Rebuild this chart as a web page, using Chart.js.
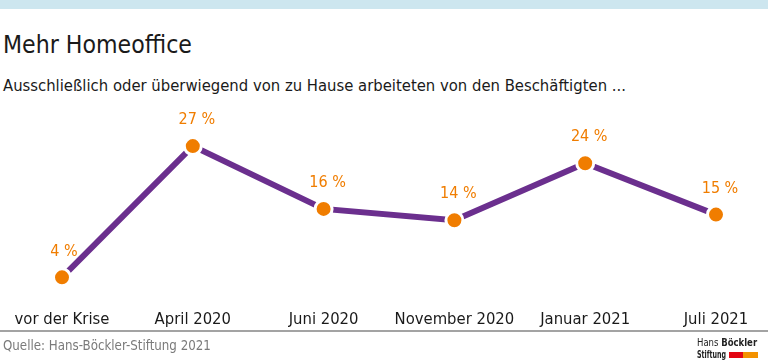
<!DOCTYPE html>
<html><head><meta charset="utf-8">
<script src="https://cdn.jsdelivr.net/npm/chart.js@4/dist/chart.umd.min.js"></script>
<style>
html,body{margin:0;padding:0;background:#fff;}
body{width:768px;height:364px;position:relative;overflow:hidden;font-family:"DejaVu Sans Condensed",sans-serif;line-height:normal;}
#band{position:absolute;left:0;top:0;width:768px;height:9px;background:#cde6ef;}
#title{position:absolute;left:3px;top:30px;font-size:24.6px;color:#1a1a1a;white-space:nowrap;}
#sub{position:absolute;left:3px;top:76px;font-size:16.5px;color:#1a1a1a;white-space:nowrap;}
#rule{position:absolute;left:0;top:330px;width:768px;height:2px;background:#a3a3a3;}
#wrap{position:absolute;left:0;top:100px;width:768px;height:241px;}
#src{position:absolute;left:3px;top:338px;font-size:13.2px;color:#7a7a7a;white-space:nowrap;}
#logo1{position:absolute;left:697px;top:336px;font-size:11px;color:#222;white-space:nowrap;transform:scaleX(0.86);transform-origin:0 0;}
#logo2{position:absolute;left:697px;top:348px;font-size:11px;font-weight:bold;color:#222;white-space:nowrap;transform:scaleX(0.64);transform-origin:0 0;}
#red{position:absolute;left:729px;top:352px;width:14px;height:6px;background:#e30613;}
#org{position:absolute;left:743px;top:352px;width:15px;height:6px;background:#f39200;}
</style></head>
<body>
<div id="band"></div>
<div id="title">Mehr Homeoffice</div>
<div id="sub">Ausschließlich oder überwiegend von zu Hause arbeiteten von den Beschäftigten ...</div>
<div id="rule"></div>
<div id="wrap"><canvas id="c" width="768" height="241"></canvas></div>
<div id="src">Quelle: Hans-Böckler-Stiftung 2021</div>
<div id="logo1">Hans <b>Böckler</b></div>
<div id="logo2">Stiftung</div>
<div id="red"></div><div id="org"></div>
<script>
const categories = ["vor der Krise","April 2020","Juni 2020","November 2020","Januar 2021","Juli 2021"];
const values = [4,27,16,14,24,15];
const valueLabels = ["4 %","27 %","16 %","14 %","24 %","15 %"];

const labelPlugin = {
  id:'valueLabels',
  afterDatasetsDraw(chart){
    const ctx = chart.ctx;
    const meta = chart.getDatasetMeta(0);
    ctx.save();
    ctx.fillStyle = '#f07d00';
    ctx.font = '16px "DejaVu Sans Condensed", sans-serif';
    ctx.textAlign = 'center';
    ctx.textBaseline = 'middle';
    meta.data.forEach((pt,i)=>{
      const dx = valueLabels[i].length > 3 ? 4 : 2;
      ctx.fillText(valueLabels[i], pt.x + dx, pt.y - 26);
    });
    ctx.restore();
  }
};

new Chart(document.getElementById('c'), {
  type:'line',
  data:{labels:categories, datasets:[{
    data:values,
    borderColor:'#6b2f8e',
    borderWidth:6,
    pointBackgroundColor:'#f07d00',
    pointBorderColor:'#ffffff',
    pointBorderWidth:3,
    pointRadius:8.5,
    tension:0,
    clip:false
  }]},
  options:{
    responsive:false,
    animation:false,
    layout:{padding:{left:62,right:52,top:29,bottom:1}},
    plugins:{legend:{display:false},tooltip:{enabled:false}},
    scales:{
      x:{offset:false,grid:{display:false,drawTicks:false},border:{display:false},
        ticks:{color:'#1a1a1a',padding:10,maxRotation:0,autoSkip:false,
          font:{family:'"DejaVu Sans Condensed",sans-serif',size:16.5}}},
      y:{display:false,min:0,max:30}
    }
  },
  plugins:[labelPlugin]
});
</script>
</body></html>
